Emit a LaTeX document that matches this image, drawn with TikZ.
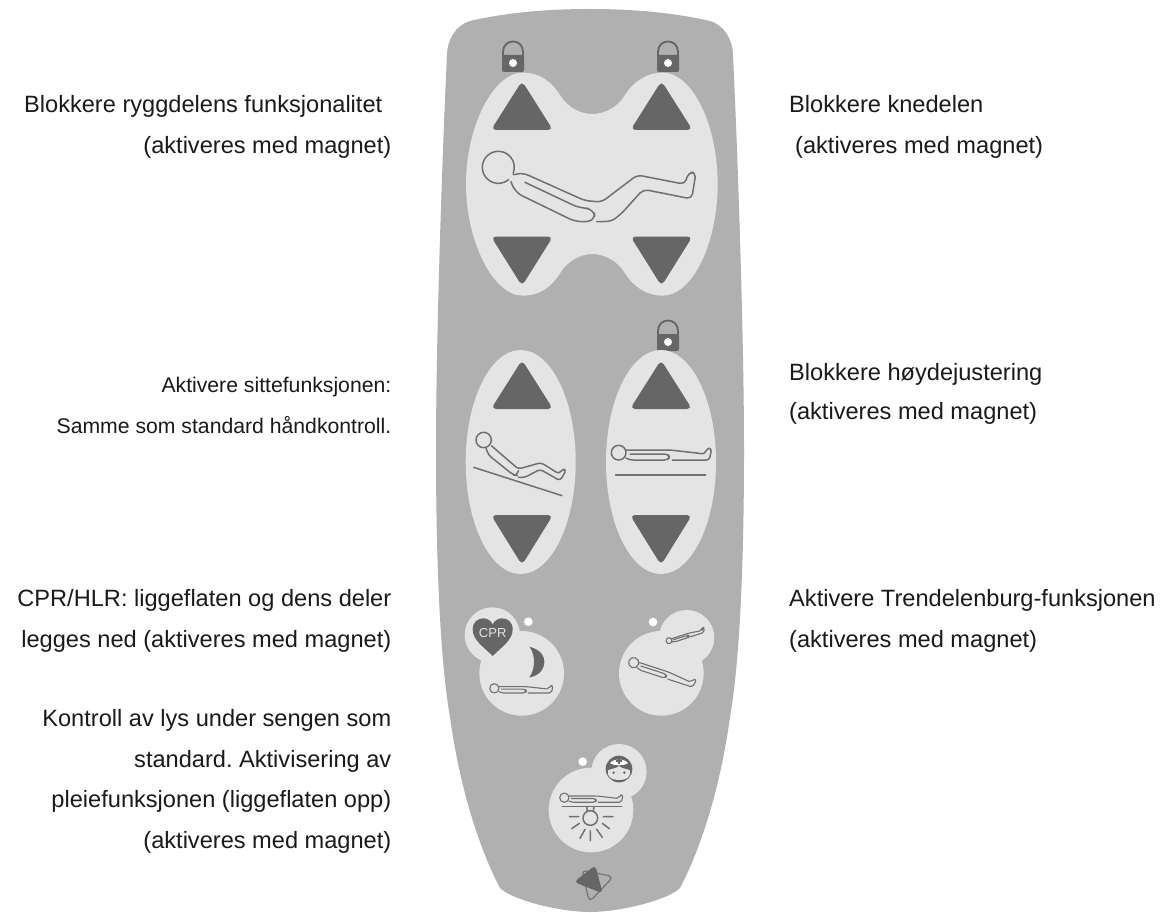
\documentclass[tikz,border=0pt]{standalone}
\usepackage{fontspec}
\setmainfont{Liberation Sans}
\definecolor{panelgray}{HTML}{B0B0B0}
\definecolor{btngray}{HTML}{E4E4E4}
\definecolor{darkgray}{HTML}{666666}
\definecolor{linegray}{HTML}{707070}
\definecolor{inktext}{HTML}{1A1A1A}
\tikzset{
  panelbg/.style={fill=panelgray},
  btn/.style={fill=btngray},
  dark/.style={fill=darkgray},
  ledw/.style={fill=white},
  figline/.style={draw=linegray,line width=1.5pt,line cap=round,line join=round},
  thinfig/.style={draw=linegray,line width=1.1pt,line cap=round,line join=round},
  lbl/.style={font=\fontsize{23.6}{28}\selectfont\frenchspacing,text=inktext,inner sep=0pt},
  lblr/.style={lbl,anchor=base east},
  lbll/.style={lbl,anchor=base west},
  lblsmall/.style={font=\fontsize{21.2}{25}\selectfont\frenchspacing,text=inktext,inner sep=0pt,anchor=base east},
  lockicon/.pic={
    \draw[darkgray,line width=1.8pt] (-10,-7) -- (-10,-11) .. controls (-10,-25) and (10,-25) .. (10,-11) -- (10,-7);
    \fill[dark,rounded corners=2pt] (-11,-8) rectangle (11,9);
    \fill[ledw] (0,0) circle[radius=4];
  },
  manflat/.pic={
    \draw[figline] (0,0) circle[radius=22];
    \draw[figline,rounded corners=3pt] (22,-8) -- (154,-8) -- (259,4) -- (264,-13) -- (279,-13) -- (272,22) -- (161,22);
    \draw[figline,rounded corners=3pt] (34,4) -- (146,4) -- (154,13) -- (146,22) -- (34,22) -- (22,16);
  },
  mansmall/.pic={
    \draw[thinfig] (0,0) circle[radius=22];
    \draw[thinfig,rounded corners=2pt] (22,-8) -- (154,-8) -- (259,4) -- (264,-13) -- (279,-13) -- (272,22) -- (161,22);
    \draw[thinfig,rounded corners=2pt] (34,4) -- (146,4) -- (154,13) -- (146,22) -- (34,22) -- (22,16);
  }
}
\newcommand{\triup}[3]{\fill[dark,rounded corners=5pt] (#1,#2-5) -- (#1+31,#3) -- (#1-31,#3) -- cycle;}
\newcommand{\tridn}[3]{\fill[dark,rounded corners=5pt] (#1,#2+5) -- (#1+31,#3) -- (#1-31,#3) -- cycle;}
\begin{document}
\begin{tikzpicture}[x=1pt,y=-1pt]
\useasboundingbox (0,0) rectangle (1166,912);
\fill[white] (0,0) rectangle (1166,912);
% panel
\fill[panelbg] (590,9) .. controls (540,9) and (500,14) .. (470,21)
  .. controls (456,25) and (447,40) .. (447,55)
  .. controls (442,160) and (436,340) .. (436,450)
  .. controls (436,560) and (440,660) .. (450,717)
  .. controls (460,790) and (480,850) .. (500,888)
  .. controls (512,900) and (560,912) .. (590,912)
  .. controls (620,912) and (668,900) .. (680,888)
  .. controls (700,850) and (720,790) .. (730,717)
  .. controls (740,660) and (744,560) .. (744,450)
  .. controls (744,340) and (738,160) .. (733,55)
  .. controls (733,40) and (724,25) .. (710,21)
  .. controls (680,14) and (640,9) .. (590,9) -- cycle;
% top blob
\begin{scope}[shift={(430,0)},scale=1/3]
\fill[btn] (278,218) .. controls (330,218) and (365,245) .. (390,285)
  .. controls (410,320) and (450,342) .. (487,342)
  .. controls (525,342) and (565,320) .. (585,285)
  .. controls (610,245) and (650,218) .. (697,218)
  .. controls (790,218) and (863,380) .. (863,552)
  .. controls (863,725) and (790,887) .. (697,887)
  .. controls (650,887) and (610,860) .. (585,820)
  .. controls (565,785) and (525,762) .. (487,762)
  .. controls (450,762) and (410,785) .. (390,820)
  .. controls (365,860) and (330,887) .. (278,887)
  .. controls (190,887) and (108,725) .. (108,552)
  .. controls (108,380) and (190,218) .. (278,218) -- cycle;
\draw[figline] (205,502) ++(50:48) arc[start angle=50,end angle=382,radius=48];
\draw[figline,rounded corners=5pt] (250,524) -- (280,519) -- (465,602) -- (515,606) -- (622,525) -- (765,553) -- (775,517) -- (798,517) -- (785,597) -- (640,568) -- (575,640) -- (545,664) -- (500,665);
\draw[figline,rounded corners=8pt] (285,547) -- (450,625) -- (490,625) -- (497,662) -- (440,667) -- (255,577) -- (243,545);
\end{scope}
\triup{522}{86}{130}\triup{661.5}{86}{130}
\tridn{522}{281}{236.5}\tridn{661.5}{281}{236.5}
\pic at (513,63) {lockicon};
\pic at (668,63) {lockicon};
\pic at (668,342) {lockicon};
% ovals
\fill[btn] (520.7,462) ellipse[x radius=55,y radius=112];
\fill[btn] (661,462) ellipse[x radius=55,y radius=112];
\triup{522}{365}{409}\triup{661}{365}{409}
\tridn{522}{560}{515}\tridn{661}{560}{515}
% reclining figure, ground
\begin{scope}[shift={(430,310)},scale=1/3]
\draw[figline] (161,390) circle[radius=23];
\draw[figline,rounded corners=3pt] (185,408) -- (265,477) -- (333,458) -- (388,492) -- (396,477) -- (409,480) -- (390,512) -- (330,478) -- (285,502) -- (265,502);
\draw[figline,rounded corners=4pt] (168,413) -- (174,434) -- (250,495) -- (262,497) -- (265,482);
\draw[figline] (131,472) -- (396,557);
\draw[figline] (557,495) -- (827,495);
\pic[transform shape] at (566,428) {manflat};
\end{scope}
% small buttons
\begin{scope}[shift={(450,590)},scale=1/3]
% CPR
\fill[btn] (215,250) circle[radius=127];
\fill[btn] (127,135) circle[radius=83];
\fill[ledw] (235,95) circle[radius=13];
\fill[dark] (128,198) .. controls (100,170) and (68,150) .. (68,118)
  .. controls (68,95) and (85,85) .. (100,85)
  .. controls (112,85) and (123,92) .. (128,103)
  .. controls (133,92) and (144,85) .. (156,85)
  .. controls (172,85) and (188,95) .. (188,118)
  .. controls (188,150) and (156,170) .. (128,198) -- cycle;
\node[inner sep=0pt,text=btngray,font=\fontsize{13}{15}\selectfont] (cprtext) at (128,129) {CPR};
\fill[dark] (238,170) .. controls (275,180) and (283,200) .. (283,215)
  .. controls (283,240) and (265,258) .. (238,262)
  .. controls (255,240) and (258,195) .. (238,170) -- cycle;
\pic[transform shape,scale=.63] at (133,295) {mansmall};
% Trendelenburg
\fill[btn] (634,250) circle[radius=127];
\fill[btn] (710,143) circle[radius=83];
\fill[ledw] (609,96) circle[radius=13];
\pic[transform shape,scale=.7,rotate=-18] at (551,218) {mansmall};
\pic[transform shape,scale=.4,rotate=18] at (657,152) {mansmall};
% nurse / light
\fill[btn] (423,660) circle[radius=127];
\fill[btn] (507,545) circle[radius=83];
\fill[ledw] (398,515) circle[radius=13];
\pic[transform shape,scale=.63] at (343,623) {mansmall};
\draw[figline] (337,650) -- (515,650);
\draw[figline] (410,650) -- (412,664) (432,650) -- (430,664);
\draw[figline] (421,684) circle[radius=22];
\draw[figline] (358,680) -- (386,680) (460,680) -- (489,680) (365,716) -- (388,700) (478,716) -- (457,700) (390,745) -- (405,718) (457,742) -- (440,718) (421,722) -- (421,752);
\fill[dark] (507,537) circle[radius=40];
\fill[btngray] (475,540) .. controls (490,535) and (500,535) .. (507,528) .. controls (514,535) and (524,535) .. (539,540) .. controls (545,565) and (525,570) .. (507,570) .. controls (489,570) and (469,565) .. (475,540) -- cycle;
\fill[ledw] (480,520) .. controls (488,505) and (526,505) .. (534,520) .. controls (520,528) and (494,528) .. (480,520) -- cycle;
\draw[darkgray,line width=1.4pt] (507,505) -- (507,522) (497,513) -- (517,513);
\fill[darkgray] (491,548) circle[radius=4] (523,548) circle[radius=4];
% logo
\draw[figline,line width=1.1pt,rounded corners=5pt] (395,840) -- (490,860) -- (418,936) -- cycle;
\fill[dark,rounded corners=4pt] (372,876) -- (436,826) -- (458,910) -- cycle;
\end{scope}
% texts
\node[lblr] (t1a) at (382.5,113) {Blokkere ryggdelens funksjonalitet};
\node[lblr] (t1b) at (391.5,154) {(aktiveres med magnet)};
\node[lblsmall] (t2a) at (391.5,392.7) {Aktivere sittefunksjonen:};
\node[lblsmall] (t2b) at (391.5,433) {Samme som standard håndkontroll.};
\node[lblr] (t3a) at (391.5,606) {CPR/HLR: liggeflaten og dens deler};
\node[lblr] (t3b) at (391.5,647) {legges ned (aktiveres med magnet)};
\node[lblr] (t4a) at (391.5,726) {Kontroll av lys under sengen som};
\node[lblr] (t4b) at (391.5,767) {standard. Aktivisering av};
\node[lblr] (t4c) at (391.5,807) {pleiefunksjonen (liggeflaten opp)};
\node[lblr] (t4d) at (391.5,848) {(aktiveres med magnet)};
\node[lbll] (r1a) at (789,113) {Blokkere knedelen};
\node[lbll] (r1b) at (795,154) {(aktiveres med magnet)};
\node[lbll] (r2a) at (789,380) {Blokkere høydejustering};
\node[lbll] (r2b) at (789,419.5) {(aktiveres med magnet)};
\node[lbll] (r3a) at (789,606) {Aktivere Trendelenburg-funksjonen};
\node[lbll] (r3b) at (789,647) {(aktiveres med magnet)};
\end{tikzpicture}
\end{document}
